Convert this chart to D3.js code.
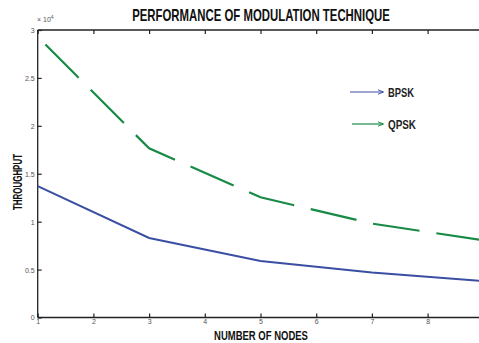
<!DOCTYPE html>
<html><head><meta charset="utf-8">
<script src="https://cdn.jsdelivr.net/npm/d3@7"></script>
<style>body{margin:0;background:#fff}svg{display:block}</style>
</head><body>
<script>
const nodes = [1, 3, 5, 7, 9];
const bpsk = [1.37, 0.83, 0.59, 0.47, 0.38];
const qpsk = [2.93, 1.765, 1.255, 0.98, 0.805];
const xTicks = [1, 2, 3, 4, 5, 6, 7, 8, 9];
const yTicks = [0, 0.5, 1, 1.5, 2, 2.5, 3];
const yTickLabels = ["0", "0.5", "1", "1.5", "2", "2.5", "3"];
const seriesNames = ["BPSK", "QPSK"];
const seriesColors = ["#3a4fa3", "#178a45"];

const W = 479, H = 343;
const svg = d3.select("body").append("svg").attr("width", W).attr("height", H);

const x = d3.scaleLinear().domain([1, 9]).range([37.7, 483.3]);
const y = d3.scaleLinear().domain([0, 3]).range([317.5, 30]);

const axisColor = "#222";
svg.append("line").attr("x1", x(1)).attr("x2", x(9)).attr("y1", y(0)).attr("y2", y(0)).attr("stroke", axisColor).attr("stroke-width", 1.3);
svg.append("line").attr("x1", x(1)).attr("x2", x(9)).attr("y1", y(3)).attr("y2", y(3)).attr("stroke", axisColor).attr("stroke-width", 1.3);
svg.append("line").attr("x1", x(1)).attr("x2", x(1)).attr("y1", y(0)).attr("y2", y(3)).attr("stroke", axisColor).attr("stroke-width", 1.3);

const fmtX = d3.format("d");
const gB = svg.append("g").attr("transform", `translate(0,${y(0)})`)
  .call(d3.axisBottom(x).tickValues(xTicks.slice(0, 8)).tickSize(-4).tickPadding(2).tickFormat(fmtX));
const gT = svg.append("g").attr("transform", `translate(0,${y(3)})`)
  .call(d3.axisTop(x).tickValues(xTicks.slice(0, 8)).tickSize(-4).tickFormat(""));
const gL = svg.append("g").attr("transform", `translate(${x(1)},0)`)
  .call(d3.axisLeft(y).tickValues(yTicks).tickSize(-4).tickPadding(3).tickFormat((d, i) => yTickLabels[i]));
[gB, gT, gL].forEach(g => {
  g.select(".domain").remove();
  g.selectAll(".tick line").attr("stroke", axisColor).attr("stroke-width", 1.2);
  g.selectAll("text").attr("fill", "#555").attr("font-family", "Liberation Sans, Arial, sans-serif").attr("font-size", 7);
});
gL.selectAll("text").attr("dy", "0.35em");

const ex = svg.append("text").attr("x", 37).attr("y", 22).attr("fill", "#555")
  .attr("font-family", "Liberation Sans, Arial, sans-serif").attr("font-size", 7);
ex.append("tspan").text("\u00d7 10");
ex.append("tspan").attr("dy", -3).attr("font-size", 5).text("4");

const line = d3.line().x((d, i) => x(nodes[i])).y(d => y(d));
svg.append("path").datum(bpsk).attr("d", line).attr("fill", "none")
  .attr("stroke", seriesColors[0]).attr("stroke-width", 2);
svg.append("path").datum(qpsk).attr("d", line).attr("fill", "none")
  .attr("stroke", seriesColors[1]).attr("stroke-width", 2.2)
  .attr("stroke-dasharray", "47,17").attr("stroke-dashoffset", 53);

const defs = svg.append("defs");
seriesColors.forEach((c, i) => {
  defs.append("marker").attr("id", "arr" + i).attr("viewBox", "0 0 10 10").attr("refX", 9).attr("refY", 5)
    .attr("markerWidth", 6).attr("markerHeight", 6).attr("orient", "auto").attr("markerUnits", "userSpaceOnUse")
    .append("path").attr("d", "M0,1 L10,5 L0,9").attr("fill", "none").attr("stroke", c).attr("stroke-width", 1.6);
});
const legY = [92, 124];
const legX0 = [350, 352];
seriesNames.forEach((n, i) => {
  svg.append("line").attr("x1", legX0[i]).attr("x2", 383).attr("y1", legY[i]).attr("y2", legY[i])
    .attr("stroke", seriesColors[i]).attr("stroke-width", 1.2).attr("marker-end", `url(#arr${i})`);
  svg.append("text").attr("x", 388).attr("y", legY[i] + 5).text(n)
    .attr("font-family", "Liberation Sans, Arial, sans-serif").attr("font-weight", "bold")
    .attr("font-size", 13).attr("fill", "#222")
    .attr("textLength", n === "BPSK" ? 26 : 28).attr("lengthAdjust", "spacingAndGlyphs");
});

// condensed text via horizontal scaling
function condensed(txt, cx, cy, size, width, rotate) {
  const t = svg.append("text").text(txt)
    .attr("font-family", "Liberation Sans, Arial, sans-serif").attr("font-weight", "bold")
    .attr("font-size", size).attr("fill", "#111").attr("text-anchor", "middle");
  const w = t.node().getComputedTextLength();
  const s = width / w;
  t.attr("transform", `translate(${cx},${cy})` + (rotate ? " rotate(-90)" : "") + ` scale(${s},1)`);
  return t;
}
condensed("PERFORMANCE OF MODULATION TECHNIQUE", 261, 21, 16, 258, false);
condensed("NUMBER OF NODES", 261, 340, 12.5, 94, false);
condensed("THROUGHPUT", 22, 182, 13, 56, true);
</script>
</body></html>
